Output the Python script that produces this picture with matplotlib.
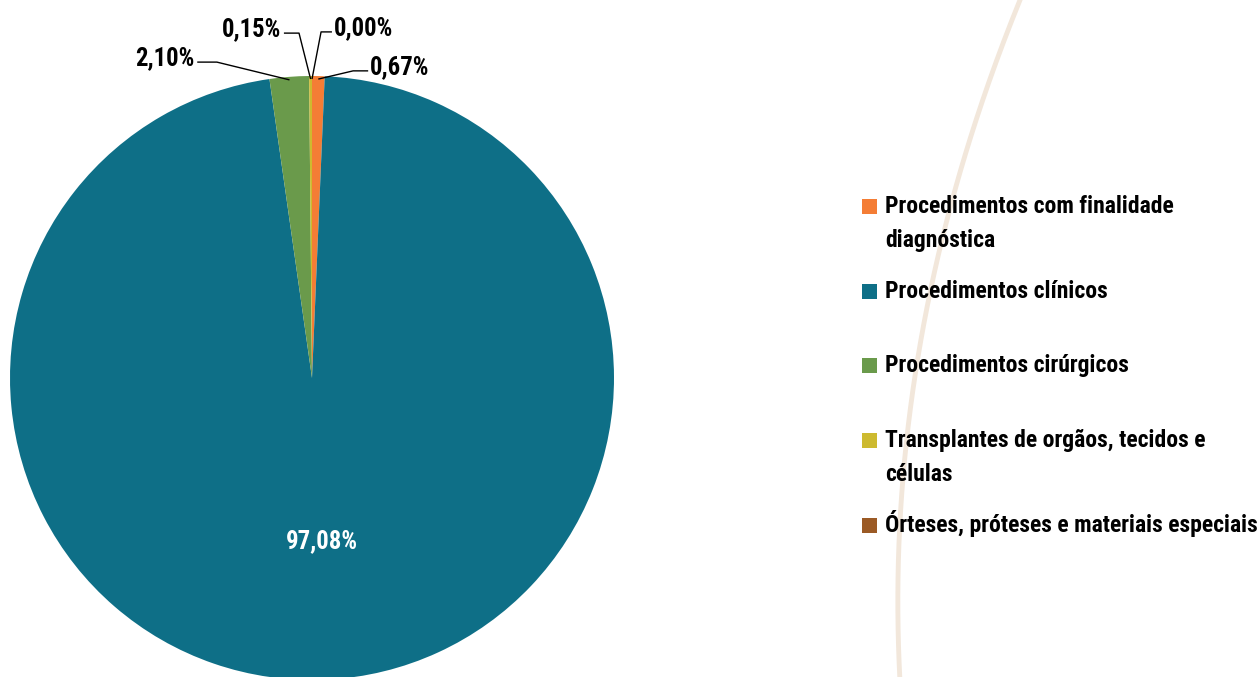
import numpy as np
import matplotlib
matplotlib.use("Agg")
import matplotlib.pyplot as plt
from matplotlib.patches import Rectangle

categories = [
    "Procedimentos com finalidade\ndiagnóstica",
    "Procedimentos clínicos",
    "Procedimentos cirúrgicos",
    "Transplantes de orgãos, tecidos e\ncélulas",
    "Órteses, próteses e materiais especiais",
]
values = [0.67, 97.08, 2.10, 0.15, 0.00]
labels = ["0,67%", "97,08%", "2,10%", "0,15%", "0,00%"]
colors = ["#F47D35", "#0E6F87", "#6A9A4B", "#CDBA2F", "#9B5A25"]

FONT = ["Roboto Condensed", "DejaVu Sans"]
plt.rcParams["font.family"] = FONT

W, H = 1260, 677
fig = plt.figure(figsize=(W / 100, H / 100), dpi=100)
fig.patch.set_facecolor("white")

# decorative arc in the background (figure pixel space)
yy = np.linspace(0, H, 200)
xx = 1020 - 0.4064 * yy + 0.000338 * yy ** 2
fig.add_artist(plt.Line2D(xx / W, 1 - yy / H, transform=fig.transFigure,
                          color="#F2E7DB", lw=3.5, zorder=0))

# axes covering whole figure, unit = pie radius
R = 302.0
cx, cy = 312.0, 378.0
ax = fig.add_axes([0, 0, 1, 1])
ax.patch.set_alpha(0)
wedges, _ = ax.pie(values, colors=colors, startangle=90, counterclock=False,
                   radius=1.0, center=(0, 0), frame=True,
                   wedgeprops=dict(linewidth=0))
ax.set_xlim(-cx / R, (W - cx) / R)
ax.set_ylim(-(H - cy) / R, cy / R)
ax.set_aspect("auto")
ax.axis("off")

u = 1 / R
LBL_FS = 17.8
# leader geometry per small slice: elbow point, horizontal run, text side
leaders = {
    0: ((0.136, 1.017), 0.050, "left"),
    2: ((-0.315, 1.046), -0.065, "right"),
    3: ((-0.043, 1.142), -0.050, "right"),
    4: ((0.030, 1.146), 0.036, "left"),
}
for i, w in enumerate(wedges):
    mid = np.deg2rad((w.theta1 + w.theta2) / 2)
    if i == 1:
        r = 0.54
        ax.text(r * np.cos(mid) + 0.005, r * np.sin(mid), labels[i], color="white",
                fontsize=LBL_FS, fontweight="bold", ha="center", va="center")
        continue
    (ex, ey), dend, side = leaders[i]
    sx, sy = 0.99 * np.cos(mid), 0.99 * np.sin(mid)
    endx = ex + dend
    ax.plot([sx, ex, endx], [sy, ey, ey], color="black", lw=1.0,
            solid_capstyle="butt")
    tx = endx + (2 * u if side == "left" else -3 * u)
    ax.text(tx, ey - 3 * u, labels[i], fontsize=LBL_FS, fontweight="bold",
            ha=side, va="baseline", color="black")

# legend (manual layout): baseline of first line per entry, in pixels
leg_base = [213, 298, 372, 447, 532]
LINE_GAP = 34
LEG_FS = 17
for lab, col, yb in zip(categories, colors, leg_base):
    fig.add_artist(Rectangle((862 / W, 1 - (yb + 1) / H), 15 / W, 15 / H,
                             transform=fig.transFigure, facecolor=col,
                             edgecolor="none"))
    for k, line in enumerate(lab.split("\n")):
        fig.text(885 / W, 1 - (yb + k * LINE_GAP) / H, line, fontsize=LEG_FS,
                 fontweight="bold", ha="left", va="baseline", color="black")

fig.savefig("out.png", dpi=100, facecolor="white")
